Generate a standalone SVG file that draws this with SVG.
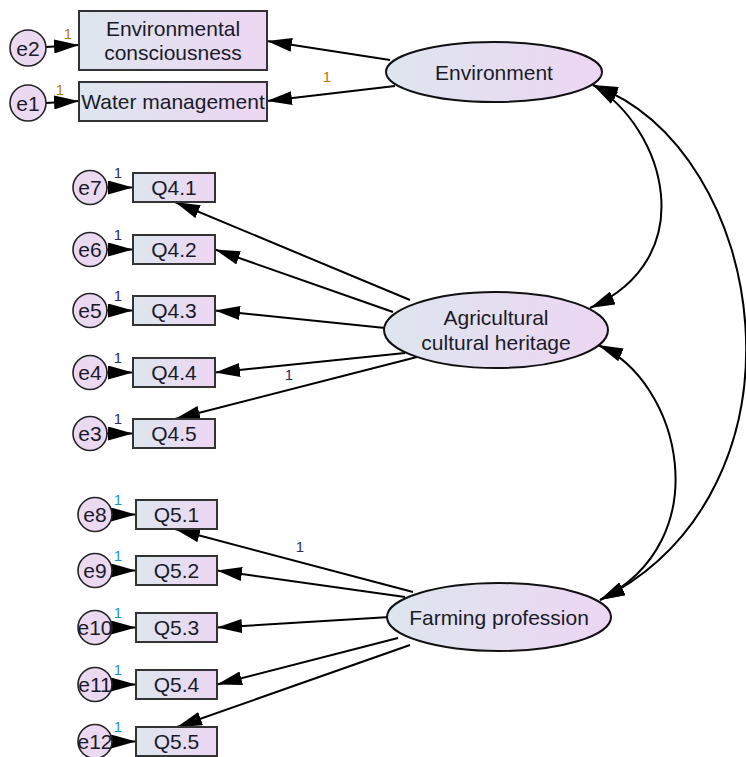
<svg xmlns="http://www.w3.org/2000/svg" width="746" height="757" viewBox="0 0 746 757">
<defs>
<linearGradient id="g" x1="0" y1="0" x2="1" y2="0">
<stop offset="0" stop-color="#dde6ee"/>
<stop offset="1" stop-color="#edd6f3"/>
</linearGradient>
<marker id="ah" markerUnits="userSpaceOnUse" markerWidth="25" markerHeight="14" refX="25" refY="7" orient="auto-start-reverse">
<path d="M0,0 L25,7 L0,14 z" fill="#000"/>
</marker>
</defs>
<style>
.box{fill:url(#g);stroke:#333;stroke-width:2}
.lat{fill:url(#g);stroke:#111;stroke-width:2}
.err{fill:#ead9f1;stroke:#222;stroke-width:1.6}
.t{font-family:"Liberation Sans",Arial,sans-serif;font-size:21px;fill:#1a1a2a;text-anchor:middle}
.one{font-family:"Liberation Sans",Arial,sans-serif;font-size:15px;text-anchor:middle}
.o1{fill:#b8780a}
.n1{fill:#2a2a6a}
.b1{fill:#1f8fd0}
.c line,.c path{stroke:#000;stroke-width:2;fill:none;marker-end:url(#ah)}
.c .dbl{marker-start:url(#ah)}
</style>

<g id="connectors" class="c">
<line x1="390" y1="60" x2="267" y2="41"/>
<line x1="395" y1="86" x2="267" y2="101"/>
<line x1="46" y1="47" x2="79" y2="45"/>
<line x1="46" y1="103" x2="79" y2="101"/>
<line x1="410" y1="300" x2="175" y2="202"/>
<line x1="393" y1="312" x2="215" y2="249.5"/>
<line x1="385" y1="328" x2="215" y2="310.5"/>
<line x1="405" y1="353" x2="215" y2="372.5"/>
<line x1="417" y1="357" x2="175" y2="419"/>
<line x1="107" y1="187.5" x2="133" y2="187.5"/>
<line x1="107" y1="249.5" x2="133" y2="249.5"/>
<line x1="107" y1="310.5" x2="133" y2="310.5"/>
<line x1="107" y1="372.5" x2="133" y2="372.5"/>
<line x1="107" y1="433.5" x2="133" y2="433.5"/>
<line x1="413" y1="592" x2="175" y2="529"/>
<line x1="405" y1="597" x2="217" y2="570.5"/>
<line x1="390" y1="617" x2="217" y2="627.5"/>
<line x1="398" y1="638" x2="217" y2="684.5"/>
<line x1="410" y1="645" x2="177" y2="727"/>
<line x1="112" y1="514.5" x2="136" y2="514.5"/>
<line x1="112" y1="570.5" x2="136" y2="570.5"/>
<line x1="112" y1="627.5" x2="136" y2="627.5"/>
<line x1="112" y1="684.5" x2="136" y2="684.5"/>
<line x1="112" y1="741.5" x2="136" y2="741.5"/>
<path class="dbl" d="M593,85 C665,128 703,258 590,308"/>
<path class="dbl" d="M593,85 C770,150 820,490 600,600"/>
<path class="dbl" d="M598,345 C680,380 720,540 600,600"/>
<text class="one o1" x="327" y="82">1</text>
<text class="one n1" x="289" y="380">1</text>
<text class="one n1" x="300" y="552">1</text>
</g>

<g id="env"><ellipse class="lat" cx="494" cy="72" rx="108" ry="30"/><text class="t" x="494" y="79.5">Environment</text></g>
<g id="ach"><ellipse class="lat" cx="496" cy="330" rx="112" ry="38"/><text class="t" x="496" y="325">Agricultural</text><text class="t" x="496" y="350">cultural heritage</text></g>
<g id="fp"><ellipse class="lat" cx="499" cy="617" rx="112" ry="34"/><text class="t" x="499" y="624.5">Farming profession</text></g>

<g id="ec"><rect class="box" x="79" y="11" width="188" height="59"/><text class="t" x="173" y="36">Environmental</text><text class="t" x="173" y="60">consciousness</text></g>
<g id="wm"><rect class="box" x="79" y="82" width="188" height="39"/><text class="t" x="173" y="109">Water management</text></g>
<g id="e2"><circle class="err" cx="28" cy="48" r="18"/><text class="t" x="28" y="55.5">e2</text><text class="one o1" x="68" y="39">1</text></g>
<g id="e1"><circle class="err" cx="28" cy="103" r="18"/><text class="t" x="28" y="110.5">e1</text><text class="one o1" x="60" y="95">1</text></g>

<g id="q41"><rect class="box" x="133" y="173" width="82" height="29"/><text class="t" x="174" y="195">Q4.1</text></g>
<g id="q42"><rect class="box" x="133" y="235" width="82" height="29"/><text class="t" x="174" y="257">Q4.2</text></g>
<g id="q43"><rect class="box" x="133" y="296" width="82" height="29"/><text class="t" x="174" y="318">Q4.3</text></g>
<g id="q44"><rect class="box" x="133" y="358" width="82" height="29"/><text class="t" x="174" y="380">Q4.4</text></g>
<g id="q45"><rect class="box" x="133" y="419" width="82" height="29"/><text class="t" x="174" y="441">Q4.5</text></g>
<g id="e7"><circle class="err" cx="90" cy="187.5" r="17"/><text class="t" x="90" y="195">e7</text><text class="one n1" x="118" y="178">1</text></g>
<g id="e6"><circle class="err" cx="90" cy="249.5" r="17"/><text class="t" x="90" y="257">e6</text><text class="one n1" x="118" y="240">1</text></g>
<g id="e5"><circle class="err" cx="90" cy="310.5" r="17"/><text class="t" x="90" y="318">e5</text><text class="one n1" x="118" y="301">1</text></g>
<g id="e4"><circle class="err" cx="90" cy="372.5" r="17"/><text class="t" x="90" y="380">e4</text><text class="one n1" x="118" y="363">1</text></g>
<g id="e3"><circle class="err" cx="90" cy="433.5" r="17"/><text class="t" x="90" y="441">e3</text><text class="one n1" x="118" y="424">1</text></g>

<g id="q51"><rect class="box" x="136" y="500" width="81" height="29"/><text class="t" x="176.5" y="522">Q5.1</text></g>
<g id="q52"><rect class="box" x="136" y="556" width="81" height="29"/><text class="t" x="176.5" y="578">Q5.2</text></g>
<g id="q53"><rect class="box" x="136" y="613" width="81" height="29"/><text class="t" x="176.5" y="635">Q5.3</text></g>
<g id="q54"><rect class="box" x="136" y="670" width="81" height="29"/><text class="t" x="176.5" y="692">Q5.4</text></g>
<g id="q55"><rect class="box" x="136" y="727" width="81" height="29"/><text class="t" x="176.5" y="749">Q5.5</text></g>
<g id="e8"><circle class="err" cx="95" cy="514.5" r="17"/><text class="t" x="95" y="522">e8</text><text class="one b1" x="118" y="505">1</text></g>
<g id="e9"><circle class="err" cx="95" cy="570.5" r="17"/><text class="t" x="95" y="578">e9</text><text class="one b1" x="118" y="561">1</text></g>
<g id="e10"><circle class="err" cx="95" cy="627.5" r="17"/><text class="t" x="95" y="635">e10</text><text class="one b1" x="118" y="618">1</text></g>
<g id="e11"><circle class="err" cx="95" cy="684.5" r="17"/><text class="t" x="95" y="692">e11</text><text class="one b1" x="118" y="675">1</text></g>
<g id="e12"><circle class="err" cx="95" cy="741.5" r="17"/><text class="t" x="95" y="749">e12</text><text class="one b1" x="118" y="732">1</text></g>
</svg>
